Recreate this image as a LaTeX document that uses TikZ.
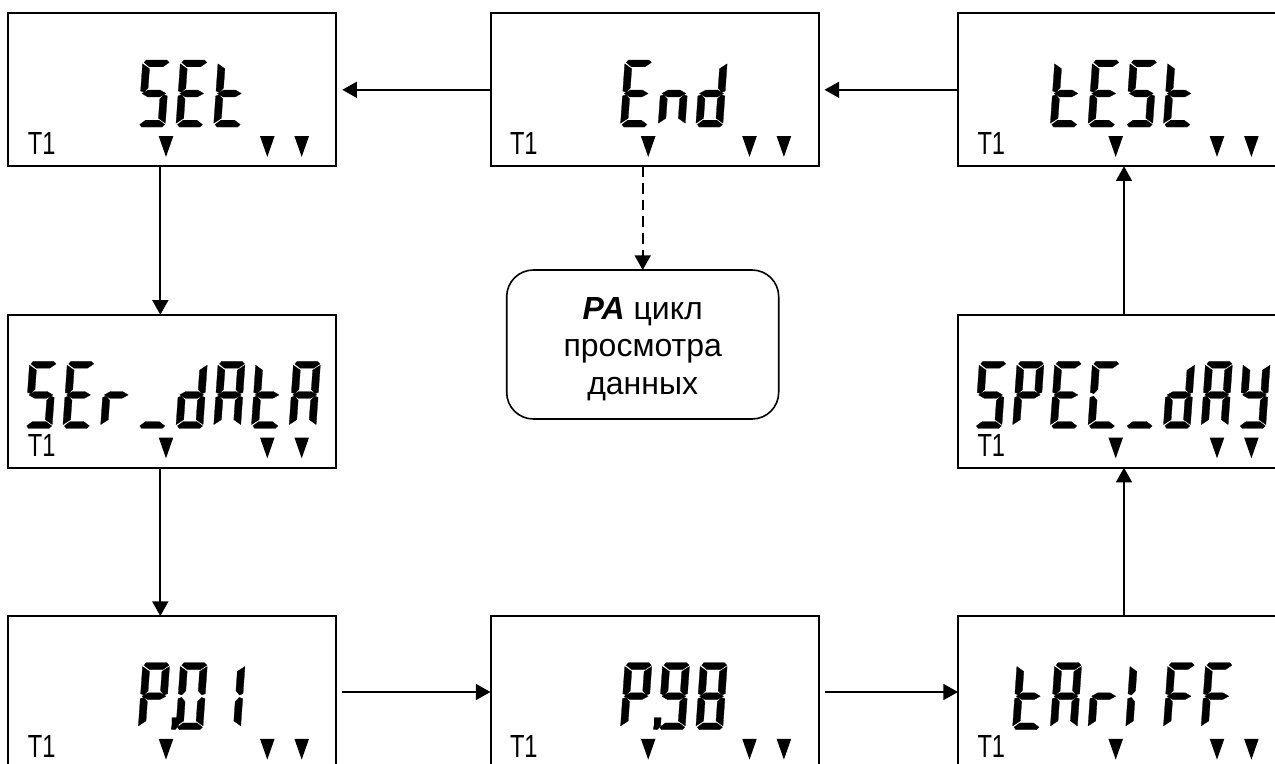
\documentclass[tikz,border=0pt]{standalone}
\usepackage{fontspec}
\usepackage{graphicx}
\setmainfont{Liberation Sans}
\usetikzlibrary{arrows.meta,calc,positioning}
\tikzset{
  lcdbox/.style={draw=black,line width=1.5pt,minimum width=246pt,minimum height=114.75pt,inner sep=0pt,outer sep=0pt},
  roundbox/.style={draw=black,line width=1.2pt,rounded corners=20pt,minimum width=204pt,minimum height=111.75pt,inner sep=0pt,outer sep=0pt,align=center,font=\fontsize{24}{28}\selectfont},
  tlabel/.style={anchor=base west,inner sep=0pt,outer sep=0pt,font=\fontsize{24}{28}\selectfont},
  conn/.style={line width=1.3pt,-{Triangle[length=11pt,width=12pt]}},
  segfill/.style={fill=black,draw=black,line width=0.2pt,line join=round},
}
% seven segments, local frame: 27 x 67 px, v measured downward
\newcommand\lcdsega{\filldraw[segfill] (3.5,0)--(24,0)--(26.5,2.5)--(20.5,6.8)--(7,6.8)--(1.5,2.5)--cycle;}
\newcommand\lcdsegg{\filldraw[segfill] (1.5,33.5)--(7.5,30.1)--(19.5,30.1)--(25.5,33.5)--(19.5,36.9)--(7.5,36.9)--cycle;}
\newcommand\lcdsegd{\filldraw[segfill] (3.5,67)--(24,67)--(26.5,64.5)--(20.5,60.2)--(7,60.2)--(1.5,64.5)--cycle;}
\newcommand\lcdsegf{\filldraw[segfill] (0,3.8)--(7.3,8.8)--(7.3,28)--(3.5,32.3)--(0,31)--cycle;}
\newcommand\lcdsege{\filldraw[segfill] (0,63.2)--(7.3,58.2)--(7.3,39)--(3.5,34.7)--(0,36)--cycle;}
\newcommand\lcdsegb{\filldraw[segfill] (27,3.8)--(19.7,8.8)--(19.7,28)--(23.5,32.3)--(27,31)--cycle;}
\newcommand\lcdsegc{\filldraw[segfill] (27,63.2)--(19.7,58.2)--(19.7,39)--(23.5,34.7)--(27,36)--cycle;}
\def\glyphS{a,f,g,c,d}
\def\glyphE{a,f,g,e,d}
\def\glyphT{f,g,e,d}
\def\glyphR{e,g}
\def\glyphU{d}
\def\glyphD{b,c,d,e,g}
\def\glyphA{a,b,c,e,f,g}
\def\glyphN{e,g,c}
\def\glyphP{a,b,e,f,g}
\def\glyphC{a,f,e,d}
\def\glyphY{f,b,g,c,d}
\def\glyphF{a,f,g,e}
\def\glyphI{e,f}
\def\glyphO{a,b,c,d,e,f}
\def\glyphL{b,c}
\def\glyphNine{a,b,c,d,f,g}
\def\glyphEight{a,b,c,d,e,f,g}
% #1 box, #2 cell index, #3 glyph list macro
\newcommand\lcddigit[3]{%
  \begin{scope}[shift={(#1.north west)},shift={({21.4+37.7*#2},46.7)},xslant=0.07]
    \foreach \s in #3 {\csname lcdseg\s\endcsname}
  \end{scope}}
\newcommand\lcdpoint[2]{%
  \begin{scope}[shift={(#1.north west)},shift={({21.4+37.7*#2},46.7)},xslant=0.07]
    \filldraw[segfill] (33,55)--(40,55)--(40,63)--(37,67)--(33,66.5)--(33.5,62)--cycle;
  \end{scope}}
% #1 name, #2 x, #3 y (left/top in px)
\newcommand\lcdunit[3]{%
  \node[lcdbox,anchor=north west] (#1) at (#2,#3) {};
  \node[tlabel] (#1t) at ($(#1.north west)+(19.5,141.5)$) {\scalebox{.74}[1]{T1}};
  \foreach \tx in {157.7,259,293.4} {
    \fill[black] ($(#1.north west)+(\tx-7.3,122.8)$) -- ($(#1.north west)+(\tx+7.3,122.8)$) -- ($(#1.north west)+(\tx,143.6)$) -- cycle;
  }}
\begin{document}
\begin{tikzpicture}[x=0.75pt,y=-0.75pt]
\useasboundingbox (0,0) rectangle (1275,764);
\lcdunit{set}{8.3}{13.3}
\lcdunit{end}{490.5}{13.3}
\lcdunit{test}{958}{13.3}
\lcdunit{ser}{8.3}{314.7}
\lcdunit{spec}{958}{314.7}
\lcdunit{pone}{8.3}{616}
\lcdunit{pnine}{490.5}{616}
\lcdunit{tar}{958}{616}
\node[roundbox,anchor=north west] (pa) at (506.7,270) {\rule{0pt}{23.2pt}\textbf{\textit{PA}} цикл\\просмотра\\данных};
% displays
\lcddigit{set}{3}{\glyphS}\lcddigit{set}{4}{\glyphE}\lcddigit{set}{5}{\glyphT}
\lcddigit{end}{3}{\glyphE}\lcddigit{end}{4}{\glyphN}\lcddigit{end}{5}{\glyphD}
\lcddigit{test}{2}{\glyphT}\lcddigit{test}{3}{\glyphE}\lcddigit{test}{4}{\glyphS}\lcddigit{test}{5}{\glyphT}
\lcddigit{ser}{0}{\glyphS}\lcddigit{ser}{1}{\glyphE}\lcddigit{ser}{2}{\glyphR}\lcddigit{ser}{3}{\glyphU}\lcddigit{ser}{4}{\glyphD}\lcddigit{ser}{5}{\glyphA}\lcddigit{ser}{6}{\glyphT}\lcddigit{ser}{7}{\glyphA}
\lcddigit{spec}{0}{\glyphS}\lcddigit{spec}{1}{\glyphP}\lcddigit{spec}{2}{\glyphE}\lcddigit{spec}{3}{\glyphC}\lcddigit{spec}{4}{\glyphU}\lcddigit{spec}{5}{\glyphD}\lcddigit{spec}{6}{\glyphA}\lcddigit{spec}{7}{\glyphY}
\lcddigit{pone}{3}{\glyphP}\lcdpoint{pone}{3}\lcddigit{pone}{4}{\glyphO}\lcddigit{pone}{5}{\glyphL}
\lcddigit{pnine}{3}{\glyphP}\lcdpoint{pnine}{3}\lcddigit{pnine}{4}{\glyphNine}\lcddigit{pnine}{5}{\glyphEight}
\lcddigit{tar}{1}{\glyphT}\lcddigit{tar}{2}{\glyphA}\lcddigit{tar}{3}{\glyphR}\lcddigit{tar}{4}{\glyphI}\lcddigit{tar}{5}{\glyphF}\lcddigit{tar}{6}{\glyphF}
% connectors
\draw[conn] (end.west) -- ($(set.east)+(6,0)$);
\draw[conn] (test.west) -- ($(end.east)+(6,0)$);
\draw[conn] ($(pone.east)+(6,-.5)$) -- ($(pnine.west)+(0,-.5)$);
\draw[conn] ($(pnine.east)+(6,-.5)$) -- ($(tar.west)+(0,-.5)$);
\draw[conn] ($(set.south west)+(152,0)$) -- ($(ser.north west)+(152,0)$);
\draw[conn] ($(ser.south west)+(152,0)$) -- ($(pone.north west)+(152,0)$);
\draw[conn] ($(tar.north west)+(166,0)$) -- ($(spec.south west)+(166,0)$);
\draw[conn] ($(spec.north west)+(166,0)$) -- ($(test.south west)+(166,0)$);
\draw[conn,dash pattern=on 8pt off 4.5pt] (pa.north |- end.south) -- (pa.north);
\end{tikzpicture}
\end{document}
